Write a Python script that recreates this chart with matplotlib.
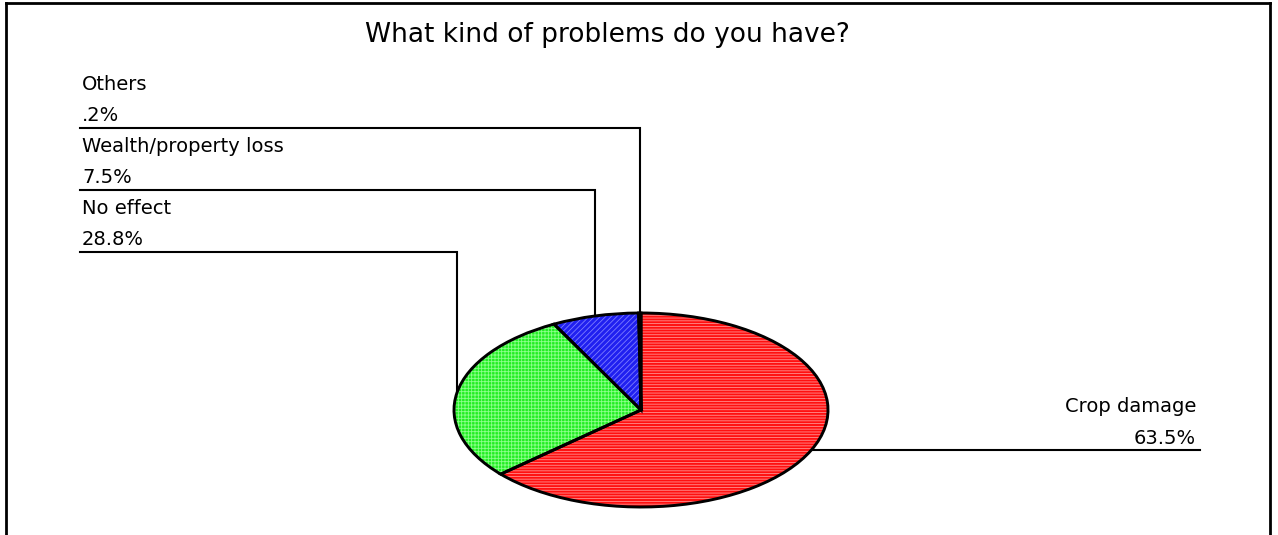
import numpy as np
import matplotlib
matplotlib.use("Agg")
import matplotlib.pyplot as plt

# Survey answers: share of respondents per problem type (%)
categories = ["Crop damage", "No effect", "Wealth/property loss", "Others"]
shares = [63.5, 28.8, 7.5, 0.2]
share_labels = ["63.5%", "28.8%", "7.5%", ".2%"]
title = "What kind of problems do you have?"

face_colors = ["#ff1010", "#22ee22", "#2020f0", "#ff00ff"]
hatch_colors = ["#ff9090", "#8cff8c", "#7d7dff", "#ff00ff"]
hatches = ["------", "+++++", "//////", ""]

plt.rcParams["font.family"] = ["DejaVu Sans"]
plt.rcParams["hatch.linewidth"] = 0.6

W, H = 1278, 535
fig = plt.figure(figsize=(W / 100, H / 100), dpi=100)
fig.patch.set_facecolor("white")

# Overlay in pixel coordinates (y grows downwards) for frame, leaders and text
ov = fig.add_axes([0, 0, 1, 1])
ov.set_xlim(0, W)
ov.set_ylim(H, 0)
ov.axis("off")

# Pie geometry in pixels: centre and semi-axes of the elliptical pie
cx, cy, rx, ry = 641, 410, 187, 97
pie_ax = fig.add_axes([(cx - rx) / W, (H - cy - ry) / H, 2 * rx / W, 2 * ry / H])
pie_ax.set_zorder(2)

# filled wedges
pie_ax.pie(shares, colors=face_colors, startangle=90, counterclock=False,
           wedgeprops=dict(linewidth=0))
# hatch texture on top
hw, _ = pie_ax.pie(shares, startangle=90, counterclock=False,
                   wedgeprops=dict(linewidth=0))
for w, hc, ht in zip(hw, hatch_colors, hatches):
    w.set_facecolor("none")
    w.set_edgecolor(hc)
    w.set_linewidth(0)
    w.set_hatch(ht)
# black outlines
pie_ax.pie(shares, startangle=90, counterclock=False,
           wedgeprops=dict(facecolor="none", edgecolor="black", linewidth=2.1))
pie_ax.set_aspect("auto")
pie_ax.set_xlim(-1, 1)
pie_ax.set_ylim(-1, 1)

# Frame around the chart (open at the bottom)
lw_frame = 2.0
ov.plot([6, 6], [H + 5, 3], color="black", lw=lw_frame, solid_capstyle="projecting")
ov.plot([6, 1270], [3, 3], color="black", lw=lw_frame, solid_capstyle="projecting")
ov.plot([1270, 1270], [3, H + 5], color="black", lw=lw_frame, solid_capstyle="projecting")

ov.text(607, 35, title, ha="center", va="center", fontsize=19, color="black")

# Leader anchors at the middle of each wedge's outer edge
total = float(sum(shares))
cum = np.concatenate([[0.0], np.cumsum(shares)[:-1]])
mid_deg = 90 - 360 * (cum + np.array(shares) / 2) / total
anchor_x = cx + rx * np.cos(np.radians(mid_deg))
anchor_y = cy - ry * np.sin(np.radians(mid_deg))

lw_lead = 1.5
fs = 14
left_x = 80
left_rows = {"Others": 128, "Wealth/property loss": 190, "No effect": 252}

for name, lab, ax_, ay_ in zip(categories, share_labels, anchor_x, anchor_y):
    if name in left_rows:
        ly = left_rows[name]
        ov.plot([left_x, ax_, ax_], [ly, ly, ay_], color="black", lw=lw_lead,
                solid_joinstyle="miter")
        ov.text(left_x + 2, ly - 7, lab, ha="left", va="baseline", fontsize=fs)
        ov.text(left_x + 2, ly - 38, name, ha="left", va="baseline", fontsize=fs)
    else:
        right_x = 1200
        ov.plot([ax_, right_x], [ay_, ay_], color="black", lw=lw_lead)
        ov.text(right_x - 4, ay_ - 6, lab, ha="right", va="baseline", fontsize=fs)
        ov.text(right_x - 4, ay_ - 38, name, ha="right", va="baseline", fontsize=fs)

fig.savefig("out.png", dpi=100, facecolor="white")
